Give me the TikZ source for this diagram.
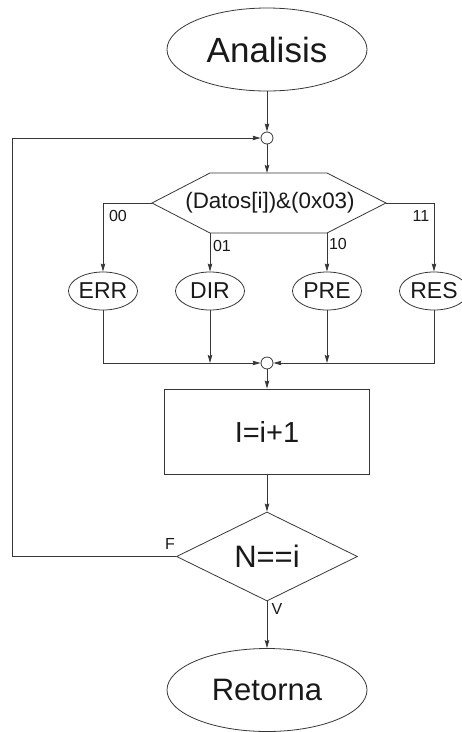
\documentclass[tikz,border=0pt]{standalone}
\usepackage{fontspec}
\setmainfont{Liberation Sans}
\usetikzlibrary{arrows.meta,shapes.geometric}
\definecolor{fc@line}{RGB}{55, 55, 55}
\definecolor{fc@text}{RGB}{25, 25, 25}

\begin{document}
\begin{tikzpicture}[x=1pt, y=-1pt,
  term/.style = {ellipse, draw=fc@line, line width=0.8pt, inner sep=0pt,
                 text=fc@text, minimum width=200pt, minimum height=83pt},
  case/.style = {ellipse, draw=fc@line, line width=0.8pt, inner sep=0pt,
                 text=fc@text, minimum width=69pt, minimum height=38pt,
                 font=\fontsize{23}{26}\selectfont},
  proc/.style = {rectangle, draw=fc@line, line width=0.8pt, inner sep=0pt,
                 text=fc@text, minimum width=205pt, minimum height=85pt,
                 font=\fontsize{29}{32}\selectfont},
  cond/.style = {diamond, draw=fc@line, line width=0.8pt, inner sep=0pt,
                 text=fc@text, minimum width=181pt, minimum height=89pt,
                 font=\fontsize{31}{34}\selectfont},
  junc/.style = {circle, draw=fc@line, line width=0.8pt, fill=white,
                 inner sep=0pt, minimum size=12pt},
  edge/.style = {fc@line, line width=0.8pt},
  flow/.style = {-{Stealth[length=8pt, width=4.5pt, inset=1pt]}, fc@line, line width=0.8pt},
  lbl/.style  = {font=\fontsize{16}{18}\selectfont, text=fc@text, inner sep=0pt},
]
  \useasboundingbox (0,0) rectangle (462,732);

  % terminals and blocks
  \node[term, font=\fontsize{35}{40}\selectfont] (ana) at (267,49.5) {Analisis};
  \node[junc] (j1)  at (267,138) {};
  \node[case] (err) at (103,291) {ERR};
  \node[case] (dir) at (210,291) {DIR};
  \node[case] (pre) at (327,291) {PRE};
  \node[case] (res) at (434,291) {RES};
  \node[junc] (j2)  at (267,363) {};
  \node[proc] (inc) at (267,431.5) {I=i+1};
  \node[cond] (chk) at (267,556.5) {N==i};
  \node[term, font=\fontsize{31}{36}\selectfont] (ret) at (267,690) {Retorna};

  % selector hexagon
  \coordinate (hexW)  at (152,203);
  \coordinate (hexNW) at (210,173);
  \coordinate (hexN)  at (267,173);
  \coordinate (hexNE) at (327,173);
  \coordinate (hexE)  at (386,203);
  \coordinate (hexSE) at (327,233);
  \coordinate (hexSW) at (210,233);
  \draw[edge] (hexW) -- (hexNW) -- (hexNE) -- (hexE) -- (hexSE) -- (hexSW) -- cycle;
  \node[text=fc@text, font=\fontsize{22.4}{26}\selectfont, inner sep=0pt] (sel) at (270,203)
    {(Datos[i])\&(0x03)};
  \coordinate (back) at (12,556.5);

  \draw[flow] (ana.south) -- (j1.north);
  \draw[flow] (j1.south)  -- (hexN);
  \draw[flow] (chk.west)  -- (back) |- (j1.west);

  \draw[flow] (hexW)  -| (err.north);
  \draw[flow] (hexSW) -- (dir.north);
  \draw[flow] (hexSE) -- (pre.north);
  \draw[flow] (hexE)  -| (res.north);
  \node[lbl] at (118,216) {00};
  \node[lbl] at (222,246) {01};
  \node[lbl] at (338,244) {10};
  \node[lbl] at (421,216) {11};

  \draw[flow] (err.south) |- (j2.west);
  \draw[flow] (dir.south) -- (dir.south |- j2);
  \draw[flow] (pre.south) -- (pre.south |- j2);
  \draw[flow] (res.south) |- (j2.east);

  \draw[flow] (j2.south)  -- (inc.north);
  \draw[flow] (inc.south) -- (chk.north);
  \draw[flow] (chk.south) -- (ret.north);
  \node[lbl] at (170,544) {F};
  \node[lbl] at (277,609) {V};
\end{tikzpicture}
\end{document}
